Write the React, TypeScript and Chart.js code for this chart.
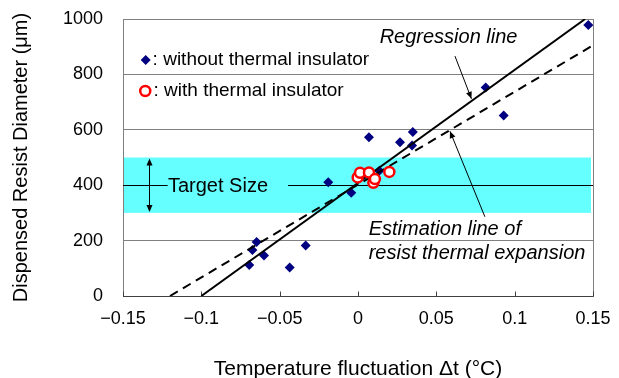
import React, { useEffect, useRef } from "react";
import { Chart, registerables } from "chart.js";

Chart.register(...registerables);

const FONT = '"Liberation Sans", Arial, sans-serif';

// Data: without thermal insulator (blue diamonds)
const withoutX = [-0.0694, -0.0674, -0.0647, -0.06, -0.0436, -0.0334, -0.019, -0.0043, 0.007, 0.0136, 0.0268, 0.0345, 0.035, 0.0815, 0.093, 0.147];
const withoutY = [112, 166, 195, 146, 103, 182, 411, 373, 573, 452, 555, 543, 592, 753, 652, 978];
// Data: with thermal insulator (red circles)
const withX = [-0.0002, 0.0013, 0.007, 0.0098, 0.0108, 0.02];
const withY = [428, 445, 446, 409, 422, 448];
// Regression line
const regX = [-0.1, 0.145];
const regY = [0, 1000];
// Estimation line of resist thermal expansion
const estX = [-0.12, 0.15];
const estY = [0, 905];
// Target size band
const targetLow = 300;
const targetHigh = 500;
const targetCenter = 400;
// Ticks
const xTickValues = [-0.15, -0.1, -0.05, 0, 0.05, 0.1, 0.15];
const xTickLabels = ["\u22120.15", "\u22120.1", "\u22120.05", "0", "0.05", "0.1", "0.15"];
const yTickValues = [0, 200, 400, 600, 800, 1000];
const yTickLabels = ["0", "200", "400", "600", "800", "1000"];

const zip = (xs: number[], ys: number[]) => xs.map((x, i) => ({ x, y: ys[i] }));

function arrowHead(ctx: CanvasRenderingContext2D, x1: number, y1: number, x2: number, y2: number, len = 7, half = 3) {
  const a = Math.atan2(y2 - y1, x2 - x1);
  ctx.beginPath();
  ctx.moveTo(x2, y2);
  ctx.lineTo(x2 - len * Math.cos(a) + half * Math.sin(a), y2 - len * Math.sin(a) - half * Math.cos(a));
  ctx.lineTo(x2 - len * Math.cos(a) - half * Math.sin(a), y2 - len * Math.sin(a) + half * Math.cos(a));
  ctx.closePath();
  ctx.fill();
}

export default function App() {
  const ref = useRef<HTMLCanvasElement>(null);

  useEffect(() => {
    const canvas = ref.current;
    if (!canvas) return;

    const bandPlugin = {
      id: "band",
      beforeDraw(chart: any) {
        const { ctx, chartArea } = chart;
        const ys = chart.scales.y;
        ctx.save();
        ctx.fillStyle = "#66ffff";
        const yt = ys.getPixelForValue(targetHigh);
        const yb = ys.getPixelForValue(targetLow);
        ctx.fillRect(chartArea.left + 1, yt, chartArea.right - chartArea.left - 3, yb - yt);
        ctx.restore();
      },
      beforeDatasetsDraw(chart: any) {
        const { ctx, chartArea } = chart;
        const xs = chart.scales.x;
        const ys = chart.scales.y;
        ctx.save();
        // frame
        ctx.strokeStyle = "#808080";
        ctx.lineWidth = 1;
        ctx.strokeRect(Math.round(chartArea.left) + 0.5, Math.round(chartArea.top) + 0.5,
          Math.round(chartArea.right - chartArea.left), Math.round(chartArea.bottom - chartArea.top));
        ctx.strokeStyle = "#404040";
        ctx.beginPath();
        const yb = Math.round(chartArea.bottom) + 0.5;
        ctx.moveTo(chartArea.left, yb);
        ctx.lineTo(chartArea.right, yb);
        // inward tick marks
        for (const v of xTickValues) {
          const x = Math.round(xs.getPixelForValue(v)) + 0.5;
          ctx.moveTo(x, yb);
          ctx.lineTo(x, yb - 5);
        }
        ctx.stroke();
        // target center line, interrupted by label
        const y4 = Math.round(ys.getPixelForValue(targetCenter)) + 0.5;
        ctx.strokeStyle = "#000";
        ctx.beginPath();
        ctx.moveTo(chartArea.left, y4);
        ctx.lineTo(xs.getPixelForValue(-0.1215), y4);
        ctx.moveTo(xs.getPixelForValue(-0.0447), y4);
        ctx.lineTo(chartArea.right, y4);
        ctx.stroke();
        ctx.restore();
      },
      afterDatasetsDraw(chart: any) {
        const { ctx } = chart;
        const xs = chart.scales.x;
        const ys = chart.scales.y;
        const P = (x: number, y: number) => [xs.getPixelForValue(x), ys.getPixelForValue(y)];
        ctx.save();
        ctx.fillStyle = "#000";
        ctx.strokeStyle = "#000";
        ctx.textBaseline = "middle";

        // Legend
        const [dx, dy] = P(-0.1355, 852);
        ctx.fillStyle = "#000080";
        ctx.beginPath();
        ctx.moveTo(dx, dy - 5);
        ctx.lineTo(dx + 5, dy);
        ctx.lineTo(dx, dy + 5);
        ctx.lineTo(dx - 5, dy);
        ctx.closePath();
        ctx.fill();
        const [cx, cy] = P(-0.1358, 740);
        ctx.strokeStyle = "#ff0000";
        ctx.fillStyle = "#fff";
        ctx.lineWidth = 2.5;
        ctx.beginPath();
        ctx.arc(cx, cy, 5, 0, Math.PI * 2);
        ctx.fill();
        ctx.stroke();

        ctx.fillStyle = "#000";
        ctx.strokeStyle = "#000";
        ctx.font = `19px ${FONT}`;
        ctx.textAlign = "left";
        let [tx, ty] = P(-0.1311, 852);
        ctx.fillText(": without thermal insulator", tx, ty);
        [tx, ty] = P(-0.1305, 740);
        ctx.fillText(": with thermal insulator", tx, ty);

        // Target size
        ctx.font = `20px ${FONT}`;
        [tx, ty] = P(-0.1213, targetCenter);
        ctx.fillText("Target Size", tx, ty + 1);
        const [ax, ayTop] = P(-0.1332, targetHigh);
        const [, ayBot] = P(-0.1332, targetLow);
        ctx.lineWidth = 1;
        ctx.beginPath();
        ctx.moveTo(Math.round(ax) + 0.5, ayTop + 2);
        ctx.lineTo(Math.round(ax) + 0.5, ayBot - 2);
        ctx.stroke();
        arrowHead(ctx, Math.round(ax) + 0.5, ayBot, Math.round(ax) + 0.5, ayTop + 1, 7, 3);
        arrowHead(ctx, Math.round(ax) + 0.5, ayTop, Math.round(ax) + 0.5, ayBot - 1, 7, 3);

        // Regression line label + arrow
        ctx.font = `italic 20px ${FONT}`;
        ctx.textAlign = "center";
        [tx, ty] = P(0.0578, 935);
        ctx.fillText("Regression line", tx, ty);
        const [r1x, r1y] = P(0.0619, 866);
        const [r2x, r2y] = P(0.0724, 712);
        ctx.beginPath();
        ctx.moveTo(r1x, r1y);
        ctx.lineTo(r2x, r2y);
        ctx.stroke();
        arrowHead(ctx, r1x, r1y, r2x, r2y, 7, 3);

        // Estimation line label + arrow
        ctx.textAlign = "left";
        [tx, ty] = P(0.0068, 242);
        ctx.fillText("Estimation line of", tx, ty);
        [tx, ty] = P(0.0068, 152);
        ctx.fillText("resist thermal expansion", tx, ty);
        const [e1x, e1y] = P(0.081, 286);
        const [e2x, e2y] = P(0.0587, 595);
        ctx.beginPath();
        ctx.moveTo(e1x, e1y);
        ctx.lineTo(e2x, e2y);
        ctx.stroke();
        arrowHead(ctx, e1x, e1y, e2x, e2y, 7, 3);

        ctx.restore();
      },
    };

    const chart = new Chart(canvas, {
      type: "scatter",
      data: {
        datasets: [
          {
            label: "with thermal insulator",
            data: zip(withX, withY),
            pointStyle: "circle",
            pointRadius: 5,
            pointBorderWidth: 2.5,
            pointBorderColor: "#ff0000",
            pointBackgroundColor: "#ffffff",
            order: 0,
          },
          {
            label: "Regression line",
            data: zip(regX, regY),
            showLine: true,
            borderColor: "#000",
            borderWidth: 2,
            pointRadius: 0,
            order: 1,
          },
          {
            label: "Estimation line of resist thermal expansion",
            data: zip(estX, estY),
            showLine: true,
            borderColor: "#000",
            borderWidth: 2,
            borderDash: [9, 6],
            pointRadius: 0,
            order: 1,
          },
          {
            label: "without thermal insulator",
            data: zip(withoutX, withoutY),
            pointStyle: "rectRot",
            pointRadius: 5,
            pointBorderWidth: 0,
            pointBackgroundColor: "#000080",
            pointBorderColor: "#000080",
            order: 2,
          },
        ],
      },
      options: {
        responsive: false,
        animation: false,
        devicePixelRatio: 1,
        layout: { padding: { top: 19, right: 26, left: 0, bottom: 0 } },
        plugins: {
          legend: { display: false },
          tooltip: { enabled: false },
        },
        scales: {
          x: {
            type: "linear",
            min: -0.15,
            max: 0.15,
            afterBuildTicks: (scale: any) => {
              scale.ticks = xTickValues.map((v) => ({ value: v }));
            },
            afterFit: (scale: any) => {
              scale.height = 82;
              scale.paddingLeft = 0;
              scale.paddingRight = 0;
            },
            grid: { display: false, drawTicks: false },
            border: { display: false },
            ticks: {
              autoSkip: false,
              maxRotation: 0,
              padding: 12,
              color: "#000",
              font: { family: FONT, size: 18 },
              callback: (_v: any, i: number) => xTickLabels[i],
            },
            title: {
              display: true,
              text: "Temperature fluctuation \u0394t (\u00b0C)",
              color: "#000",
              font: { family: FONT, size: 21, lineHeight: 0.8 },
              padding: { top: 0, bottom: 0 },
            },
          },
          y: {
            type: "linear",
            min: 0,
            max: 1000,
            afterBuildTicks: (scale: any) => {
              scale.ticks = yTickValues.map((v) => ({ value: v }));
            },
            afterFit: (scale: any) => {
              scale.width = 123;
              scale.paddingTop = 0;
              scale.paddingBottom = 0;
            },
            grid: {
              drawTicks: false,
              color: (c: any) => (c.tick && c.tick.value === targetCenter ? "rgba(0,0,0,0)" : "#808080"),
              lineWidth: 1,
            },
            border: { display: false },
            ticks: {
              padding: 20,
              color: "#000",
              font: { family: FONT, size: 18 },
              callback: (_v: any, i: number) => yTickLabels[i],
            },
            title: {
              display: true,
              text: "Dispensed Resist Diameter (\u03bcm)",
              color: "#000",
              font: { family: FONT, size: 20, lineHeight: 1 },
              padding: { top: 11, bottom: 0 },
            },
          },
        },
      },
      plugins: [bandPlugin],
    } as any);

    return () => chart.destroy();
  }, []);

  return (
    <div style={{ position: "absolute", left: 0, top: 0, width: 619, height: 378, background: "#fff" }}>
      <canvas ref={ref} width={619} height={378} style={{ display: "block" }} />
    </div>
  );
}
